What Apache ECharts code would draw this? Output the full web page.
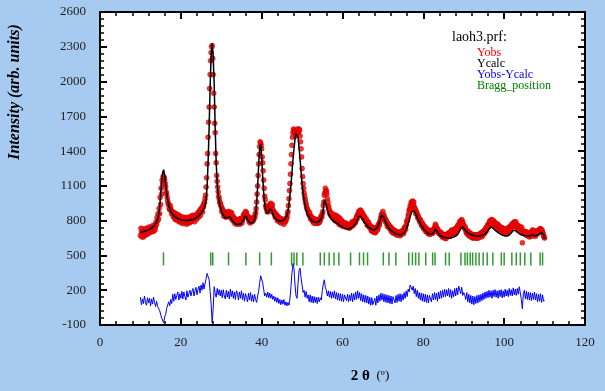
<!DOCTYPE html>
<html>
<head>
<meta charset="utf-8">
<script src="https://cdn.jsdelivr.net/npm/echarts@6/dist/echarts.min.js"></script>
<style>
html,body{margin:0;padding:0;background:#a6caf0;}
#chart{width:605px;height:391px;}
</style>
</head>
<body>
<div id="chart"></div>
<script>
// 2theta grid: start 10, step 0.25, 401 points (10 .. 110)
const THETA_START = 10;
const THETA_STEP = 0.25;
// second set of observed points lies half a step further on (10.125 .. 109.875)
const THETA_MID_START = 10.125;

const yCalc = [
700,702,704,706,708,711,714,717,721,725,730,736,743,751,761,775,
790,815,855,920,1020,1130,1215,1240,1195,1115,1040,980,935,905,880,865,
853,843,835,829,823,818,814,811,808,806,804,803,802,801,801,801,
802,803,805,807,810,813,817,822,828,835,843,852,862,874,888,905,
930,985,1090,1310,1600,1950,2230,2330,2220,1980,1600,1300,1120,1020,960,920,
890,865,845,830,822,820,825,835,838,828,812,798,788,780,774,770,
767,766,767,770,776,786,805,835,850,835,808,792,784,780,780,783,
790,815,860,950,1090,1280,1430,1460,1350,1180,1040,950,893,865,860,875,
900,912,893,860,836,822,813,806,801,798,796,796,797,800,805,812,
822,845,880,940,1020,1110,1220,1330,1420,1500,1550,1560,1520,1430,1330,1220,
1120,1040,980,930,892,865,845,830,817,806,798,792,788,785,784,785,
788,793,802,818,845,900,980,995,940,890,860,840,825,814,805,798,
792,786,780,774,768,762,756,750,745,740,736,733,731,730,730,732,
736,741,747,754,763,775,792,815,835,842,835,822,808,795,782,770,
760,750,742,735,729,725,722,721,722,726,735,750,772,800,830,848,
850,830,800,778,762,748,735,724,715,707,700,694,689,685,682,680,
679,679,680,683,688,696,708,725,748,775,805,835,862,880,890,885,
868,848,828,810,792,776,760,746,733,721,711,702,695,689,685,682,
682,686,695,712,728,722,705,690,678,670,664,660,657,655,653,652,
651,651,651,652,653,655,658,662,667,673,682,695,712,730,744,747,
738,725,713,703,695,689,684,680,677,674,672,670,669,668,668,668,
669,670,672,675,679,685,693,703,716,730,740,745,742,735,726,718,
710,703,697,691,686,681,677,673,670,668,667,668,671,676,684,694,
706,716,719,716,708,700,693,687,682,678,675,673,672,671,670,669,
668,668,670,674,676,674,671,670,671,675,681,689,695,697,693,680,
640];

const yObs = [
672,705,690,660,712,685,700,730,695,718,705,740,722,708,755,748,
770,800,815,860,940,1030,1120,1160,1150,1090,1030,970,940,895,905,860,
870,830,845,812,840,800,825,790,830,805,785,820,795,815,780,810,
815,790,830,800,845,810,835,850,825,870,860,895,880,905,930,950,
990,1090,1290,1520,1780,2060,2250,2310,2060,1780,1560,1300,1140,1050,990,950,
920,905,870,880,850,870,855,880,860,845,870,820,835,800,815,790,
800,780,815,790,820,805,850,860,880,870,840,815,830,795,810,820,
810,830,870,960,1100,1290,1440,1470,1420,1300,1150,1010,930,900,885,905,
940,950,925,900,880,850,860,825,840,810,800,780,815,790,770,800,
800,830,880,990,1120,1290,1450,1560,1580,1560,1540,1560,1570,1590,1530,1420,
1250,1120,1040,985,940,900,880,850,830,840,805,820,790,810,780,805,
800,815,805,840,860,930,1020,1080,1060,990,930,890,870,850,830,845,
850,820,845,810,830,790,805,770,790,760,775,745,770,740,760,735,
770,750,785,770,800,790,835,850,880,870,890,850,860,820,830,790,
795,760,775,740,735,710,735,700,720,705,745,730,775,790,830,860,
880,845,820,805,770,775,740,755,720,735,700,720,690,710,675,700,
690,670,705,685,720,710,745,760,800,840,890,930,960,950,940,920,
900,880,850,840,805,810,770,780,740,755,720,735,705,720,690,710,
700,690,720,735,770,740,730,700,705,680,690,665,680,650,670,660,
690,665,700,680,720,690,715,700,735,720,760,745,790,800,810,790,
760,730,720,690,700,670,690,660,680,650,675,655,680,650,670,660,
690,660,700,680,715,700,740,730,770,760,800,790,805,780,790,760,
775,750,765,730,745,720,740,710,730,700,725,705,740,720,750,745,
770,780,790,760,770,740,745,720,750,705,610,690,700,680,705,670,
690,660,700,680,720,690,700,665,710,690,720,700,730,715,700,670,
650];

const yObsMid = [
735,660,728,700,675,735,680,690,745,700,745,705,760,740,720,790,
830,860,905,1000,1080,1150,1180,1175,1120,1050,1000,945,910,930,885,880,
840,870,810,860,815,850,790,840,800,775,830,790,825,770,830,790,
780,835,795,845,820,790,840,810,855,830,880,845,910,875,920,960,
1020,1170,1380,1650,1940,2180,2300,2200,1900,1640,1380,1190,1090,1010,960,935,
880,890,840,855,830,860,840,850,875,820,855,800,820,775,805,770,
790,810,770,805,780,825,830,865,850,845,825,795,780,815,790,800,
825,850,905,1030,1190,1370,1480,1450,1350,1230,1080,980,910,875,905,880,
920,935,940,870,870,830,845,800,830,790,820,800,790,810,795,790,
820,860,930,1060,1200,1370,1520,1590,1570,1530,1580,1590,1560,1580,1480,1350,
1180,1080,1010,960,915,895,860,870,815,825,795,780,815,775,800,780,
780,790,830,830,880,960,1040,1050,1030,960,910,860,845,865,820,825,
800,840,790,830,770,820,760,800,750,780,755,780,750,765,740,770,
755,790,760,795,780,820,815,860,850,890,860,870,830,840,800,815,
760,790,745,760,715,745,710,730,695,740,720,760,760,810,850,840,
850,820,790,795,750,765,735,740,705,720,690,710,685,700,690,680,
700,680,690,715,690,740,725,790,810,860,900,910,940,970,960,900,
860,870,825,820,790,795,755,765,730,740,705,720,690,705,680,700,
720,710,705,750,755,720,720,690,685,700,660,680,655,675,645,680,
670,690,665,705,685,720,690,725,705,745,730,775,770,785,770,770,
740,745,700,715,680,700,670,685,655,680,650,675,650,675,650,680,
670,690,665,705,690,725,715,755,745,790,775,810,770,800,765,780,
740,770,725,750,715,735,700,725,690,720,690,730,710,745,730,770,
745,760,760,790,745,760,720,740,710,740,700,710,690,700,675,695,
670,695,665,705,670,715,680,690,690,700,705,730,720,720,690,660];

const yDiff = [
140,75,125,85,150,95,70,135,90,130,65,125,80,140,95,60,
105,60,75,25,20,-40,-55,-80,-30,-10,45,40,100,65,120,85,
165,105,170,120,155,185,115,170,130,190,125,185,145,115,195,140,
140,200,150,190,215,150,195,225,160,210,235,175,245,200,265,210,
260,300,345,360,290,190,80,-80,40,230,170,140,215,160,205,150,
200,135,205,150,125,200,140,190,125,210,145,195,130,185,120,195,
175,115,185,130,195,120,175,105,170,140,100,175,115,180,105,160,
100,165,120,95,150,190,260,325,330,265,205,150,175,140,185,135,
175,130,165,120,150,105,140,95,135,85,120,75,115,80,120,70,
100,65,95,70,125,230,350,430,385,245,150,130,260,370,390,305,
245,180,200,140,190,130,160,100,160,95,150,90,145,95,140,85,
140,100,135,115,195,255,290,225,200,150,195,140,190,130,185,135,
195,125,180,115,175,110,170,105,165,100,160,175,110,165,100,160,
110,175,100,170,115,185,120,195,130,180,110,170,100,160,95,155,
90,150,80,140,70,135,75,60,130,70,150,90,160,105,175,115,
170,100,165,95,160,90,155,85,150,80,145,160,90,155,95,165,
105,170,100,165,115,180,130,195,145,210,185,245,255,200,235,170,
215,145,200,130,180,115,175,105,170,100,165,95,160,90,155,165,
100,170,115,180,120,175,105,185,125,195,130,200,140,210,145,205,
150,215,140,205,130,195,145,215,150,220,160,235,240,170,225,155,
180,160,120,180,100,165,90,155,80,150,75,145,85,155,90,160,
100,165,110,175,120,185,130,190,135,200,140,195,130,200,145,205,
140,195,130,200,145,205,135,195,140,210,150,200,145,215,155,205,
150,220,160,210,155,215,165,230,235,120,40,170,200,125,190,120,
185,115,180,110,175,120,185,115,170,100,165,105,170,95,160,105,
115];

const braggPositions = [15.7,27.4,27.9,31.8,36.1,39.5,42.4,47.4,48.0,48.7,50.2,
54.5,55.5,56.7,57.9,59.1,62.0,64.2,65.2,66.2,70.1,71.5,73.2,76.4,77.3,78.1,78.9,
80.6,82.3,82.9,85.5,86.4,89.3,90.3,90.9,91.6,92.2,93.0,93.8,94.8,95.8,97.2,99.3,
100.0,101.9,103.0,104.0,105.1,106.6,108.9,109.5];
const braggLevel = 470;

const xTicks = {min:0, max:120, interval:20};
const yTicks = {min:-100, max:2600, interval:300};

const legendLines = [
  {text:'laoh3.prf:', color:'#000000'},
  {text:'Yobs', color:'#ff0000'},
  {text:'Ycalc', color:'#000000'},
  {text:'Yobs-Ycalc', color:'#0000ff'},
  {text:'Bragg_position', color:'#008000'}
];

function pairs(arr, start){ return arr.map((v,i)=>[start + THETA_STEP*i, v]); }

const serif = '"Liberation Serif","Times New Roman",serif';
const chart = echarts.init(document.getElementById('chart'));

const axisCommonX = {
  type:'value', min:xTicks.min, max:xTicks.max, interval:xTicks.interval,
  axisLine:{show:true, onZero:false, lineStyle:{color:'#000', width:2}},
  axisTick:{show:true, inside:true, length:7, lineStyle:{color:'#000', width:2}},
  minorTick:{show:true, splitNumber:5, length:4, lineStyle:{color:'#000', width:1.5}},
  splitLine:{show:false}
};
const axisCommonY = {
  type:'value', min:yTicks.min, max:yTicks.max, interval:yTicks.interval,
  axisLine:{show:true, onZero:false, lineStyle:{color:'#000', width:2}},
  axisTick:{show:true, inside:true, length:7, lineStyle:{color:'#000', width:2}},
  minorTick:{show:true, splitNumber:5, length:4, lineStyle:{color:'#000', width:1.5}},
  splitLine:{show:false}
};

const graphics = [
  {type:'text', x:15, y:92, rotation:Math.PI/2,
   style:{text:'Intensity (arb. units)', font:'italic bold 16px '+serif, fill:'#000',
          textAlign:'center', textVerticalAlign:'middle'}},
  {type:'text', x:370, y:376,
   style:{rich:{a:{font:'bold 15px '+serif, fill:'#000'}, b:{font:'13px '+serif, fill:'#000'}},
          text:'{a|2 θ}  {b|(º)}', textAlign:'center', textVerticalAlign:'middle'}}
];
const legendY = [37, 53, 64, 75, 86];
legendLines.forEach((l,i)=>{
  graphics.push({type:'text', x: i===0 ? 452 : 477, y: legendY[i],
    style:{text:l.text, font:(i===0 ? '14px ' : '12px ')+serif, fill:l.color, textVerticalAlign:'middle'}});
});

const obsStyle = {color:'#ff0000', borderColor:'#b00000', borderWidth:0.6};

chart.setOption({
  backgroundColor:'#a6caf0',
  animation:false,
  grid:{left:100, right:20, top:12, bottom:66, show:true, backgroundColor:'#ffffff', borderColor:'#000', borderWidth:2},
  xAxis:[
    Object.assign({}, axisCommonX, {position:'bottom',
      axisLabel:{show:true, margin:11, color:'#222', fontFamily:serif, fontSize:13}}),
    Object.assign({}, axisCommonX, {position:'top', axisLabel:{show:false}})
  ],
  yAxis:[
    Object.assign({}, axisCommonY, {position:'left',
      axisLabel:{show:true, margin:14, color:'#222', fontFamily:serif, fontSize:13,
                 formatter:v=>String(v)}}),
    Object.assign({}, axisCommonY, {position:'right', axisLabel:{show:false}})
  ],
  graphic:graphics,
  series:[
    {name:'Yobs', type:'scatter', data:pairs(yObs, THETA_START), symbol:'circle', symbolSize:5,
     itemStyle:obsStyle, z:2},
    {name:'Yobs2', type:'scatter', data:pairs(yObsMid, THETA_MID_START), symbol:'circle', symbolSize:5,
     itemStyle:obsStyle, z:2},
    {name:'Ycalc', type:'line', data:pairs(yCalc, THETA_START), showSymbol:false, symbol:'none',
     lineStyle:{color:'#000', width:1.5}, z:3},
    {name:'Yobs-Ycalc', type:'line', data:pairs(yDiff, THETA_START), showSymbol:false, symbol:'none',
     lineStyle:{color:'#0000ff', width:1}, z:3},
    {name:'Bragg_position', type:'scatter', data:braggPositions.map(p=>[p, braggLevel]),
     symbol:'rect', symbolSize:[1.5,13], itemStyle:{color:'#008000'}, z:3}
  ]
});
</script>
</body>
</html>
